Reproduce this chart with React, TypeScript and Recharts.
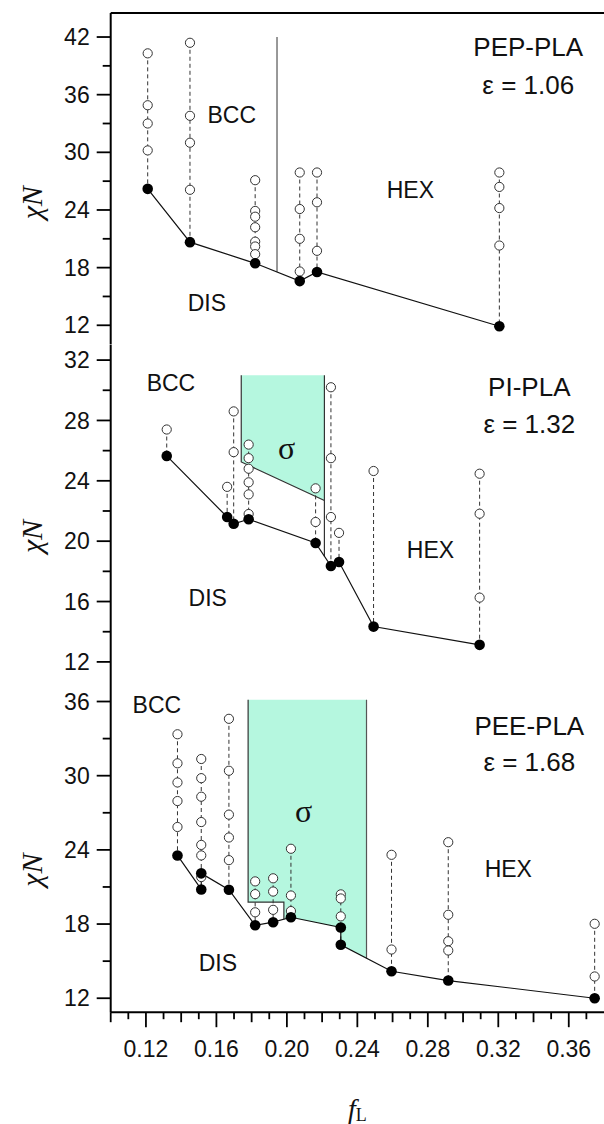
import React from "react";
import {
  ComposedChart,
  XAxis,
  YAxis,
  Scatter,
  Area,
  ReferenceLine,
  ReferenceDot,
} from "recharts";

type Column = { f: number; open: number[]; filled: number[] };
type Pt = { f: number; v: number };
type Note = { text: string; f: number; v: number; kind: "title" | "region" | "sigma" };

const SANS = '"Liberation Sans", Arial, sans-serif';
const SERIF = '"Liberation Serif", "Times New Roman", serif';

// shared x axis (f_L)
const xTicks = [
  0.1, 0.11, 0.12, 0.13, 0.14, 0.15, 0.16, 0.17, 0.18, 0.19, 0.2, 0.21, 0.22, 0.23,
  0.24, 0.25, 0.26, 0.27, 0.28, 0.29, 0.3, 0.31, 0.32, 0.33, 0.34, 0.35, 0.36, 0.37,
];

// PEP-PLA, eps = 1.06
const pepYLabels = [12, 18, 24, 30, 36, 42];
const pepYMinor = [15, 21, 27, 33, 39];
const pepColumns: Column[] = [
  { f: 0.121, open: [40.3, 34.9, 33.0, 30.2], filled: [26.2] },
  { f: 0.145, open: [41.4, 33.8, 31.0, 26.1], filled: [20.65] },
  { f: 0.182, open: [27.1, 23.9, 23.3, 22.2, 20.7, 20.2, 19.4], filled: [18.45] },
  { f: 0.2073, open: [27.9, 24.1, 21.0, 17.6], filled: [16.6] },
  { f: 0.2171, open: [27.9, 24.8, 19.75], filled: [17.55] },
  { f: 0.3206, open: [27.9, 26.4, 24.2, 20.3], filled: [11.9] },
];
const pepBccHex: Pt[] = [
  { f: 0.1944, v: 42 },
  { f: 0.1944, v: 17.57 },
];
const pepNotes: Note[] = [
  { text: "PEP-PLA", f: 0.337, v: 41.0, kind: "title" },
  { text: "ε = 1.06", f: 0.337, v: 37.0, kind: "title" },
  { text: "BCC", f: 0.1687, v: 33.9, kind: "region" },
  { text: "HEX", f: 0.2701, v: 26.1, kind: "region" },
  { text: "DIS", f: 0.1546, v: 14.3, kind: "region" },
];

// PI-PLA, eps = 1.32
const piYLabels = [12, 16, 20, 24, 28, 32];
const piYMinor = [14, 18, 22, 26, 30];
const piColumns: Column[] = [
  { f: 0.1318, open: [27.4], filled: [25.65] },
  { f: 0.1661, open: [23.6], filled: [21.6] },
  { f: 0.1698, open: [28.6, 25.9], filled: [21.15] },
  { f: 0.1783, open: [26.4, 25.5, 24.8, 23.9, 23.1, 21.8], filled: [21.45] },
  { f: 0.2163, open: [23.5, 21.27], filled: [19.88] },
  { f: 0.225, open: [30.2, 25.5, 21.6], filled: [18.35] },
  { f: 0.2296, open: [20.55], filled: [18.62] },
  { f: 0.2492, open: [24.65], filled: [14.34] },
  { f: 0.3094, open: [24.47, 21.82, 16.26], filled: [13.13] },
];
const piSigma = [
  { f: 0.1741, lo: 25.25, hi: 31.0 },
  { f: 0.2213, lo: 22.7, hi: 31.0 },
];
const piSigmaLeft: Pt[] = [
  { f: 0.1741, v: 31.0 },
  { f: 0.1741, v: 25.25 },
  { f: 0.2213, v: 22.7 },
];
const piSigmaRight: Pt[] = [
  { f: 0.2213, v: 31.0 },
  { f: 0.2213, v: 18.99 },
];
const piNotes: Note[] = [
  { text: "PI-PLA", f: 0.3376, v: 30.2, kind: "title" },
  { text: "ε = 1.32", f: 0.3376, v: 27.75, kind: "title" },
  { text: "BCC", f: 0.1342, v: 30.5, kind: "region" },
  { text: "σ", f: 0.1999, v: 26.2, kind: "sigma" },
  { text: "HEX", f: 0.2815, v: 19.4, kind: "region" },
  { text: "DIS", f: 0.1551, v: 16.25, kind: "region" },
];

// PEE-PLA, eps = 1.68
const peeYLabels = [12, 18, 24, 30, 36];
const peeYMinor = [15, 21, 27, 33];
const peeColumns: Column[] = [
  { f: 0.1379, open: [33.35, 31.0, 29.45, 27.95, 25.85], filled: [23.55] },
  { f: 0.1514, open: [31.35, 29.8, 28.3, 26.25, 24.4, 23.55, 21.8], filled: [20.8, 22.1] },
  { f: 0.1671, open: [34.6, 30.4, 26.85, 25.0, 23.17], filled: [20.78] },
  { f: 0.182, open: [21.45, 20.42, 18.95], filled: [17.9] },
  { f: 0.1922, open: [21.7, 20.63, 19.15], filled: [18.15] },
  { f: 0.2023, open: [24.09, 20.31, 19.05], filled: [18.55] },
  { f: 0.2306, open: [20.4, 20.07, 18.62], filled: [17.72, 16.32] },
  { f: 0.2594, open: [23.6, 15.94], filled: [14.18] },
  { f: 0.2916, open: [24.62, 18.75, 16.61, 15.86], filled: [13.43] },
  { f: 0.3747, open: [18.02, 13.76], filled: [12.0] },
];
const peeSigma = [
  { f: 0.178, lo: 19.77, hi: 36.14 },
  { f: 0.1983, lo: 19.77, hi: 36.14 },
  { f: 0.1983, lo: 18.39, hi: 36.14 },
  { f: 0.2023, lo: 18.55, hi: 36.14 },
  { f: 0.2306, lo: 17.72, hi: 36.14 },
  { f: 0.2306, lo: 16.32, hi: 36.14 },
  { f: 0.2452, lo: 15.23, hi: 36.14 },
];
const peeSigmaLeft: Pt[] = [
  { f: 0.178, v: 36.14 },
  { f: 0.178, v: 19.77 },
  { f: 0.1983, v: 19.77 },
  { f: 0.1983, v: 18.39 },
];
const peeSigmaRight: Pt[] = [
  { f: 0.2452, v: 36.14 },
  { f: 0.2452, v: 15.23 },
];
const peeNotes: Note[] = [
  { text: "PEE-PLA", f: 0.3376, v: 34.06, kind: "title" },
  { text: "ε = 1.68", f: 0.3376, v: 31.1, kind: "title" },
  { text: "BCC", f: 0.1262, v: 35.74, kind: "region" },
  { text: "σ", f: 0.2095, v: 27.2, kind: "sigma" },
  { text: "HEX", f: 0.3257, v: 22.47, kind: "region" },
  { text: "DIS", f: 0.1608, v: 14.86, kind: "region" },
];

const noDot = () => <g />;
const openDot = (p: any) => (
  <circle cx={p.cx} cy={p.cy} r={4.6} fill="#fff" stroke="#333" strokeWidth={1} />
);
const filledDot = (p: any) => <circle cx={p.cx} cy={p.cy} r={5.3} fill="#000" />;

const makeYTick = (labels: number[]) => (props: any) => {
  const { x, y, payload } = props;
  const major = labels.includes(payload.value);
  return (
    <g>
      <line x1={x - (major ? 14 : 8)} x2={x} y1={y} y2={y} stroke="#000" strokeWidth={1.8} />
      {major && (
        <text x={x - 21} y={y} dy="0.35em" textAnchor="end" fontSize={23} fontFamily={SANS} fill="#111">
          {payload.value}
        </text>
      )}
    </g>
  );
};

const XTick = (props: any) => {
  const { x, y, payload } = props;
  const k = Math.round(payload.value * 100);
  const len = k % 4 === 0 ? 15 : k % 2 === 0 ? 10 : 7;
  return (
    <g>
      <line x1={x} x2={x} y1={y} y2={y + len} stroke="#000" strokeWidth={1.8} />
      {k % 4 === 0 && (
        <text x={x} y={y + 45} textAnchor="middle" fontSize={23} fontFamily={SANS} fill="#111">
          {payload.value.toFixed(2)}
        </text>
      )}
    </g>
  );
};

const yTitle = (p: any) => {
  const vb = p.viewBox || {};
  const cy = vb.y + vb.height / 2 + 24;
  return (
    <text
      transform={`translate(${vb.x + 31}, ${cy}) rotate(-90)`}
      textAnchor="middle"
      dy="0.35em"
      fontSize={30}
      fontStyle="italic"
      fontFamily={SERIF}
      fill="#111"
    >
      χN
    </text>
  );
};

const xTitle = (p: any) => {
  const vb = p.viewBox || {};
  return (
    <text x={vb.x + vb.width / 2} y={vb.y + 106} textAnchor="middle" fontFamily={SERIF} fill="#111">
      <tspan fontSize={28} fontStyle="italic">f</tspan>
      <tspan fontSize={18} dy={3}>L</tspan>
    </text>
  );
};

const noteShape = (n: Note) => (p: any) => {
  const size = n.kind === "title" ? 26 : n.kind === "sigma" ? 32 : 23;
  return (
    <text
      x={p.cx}
      y={p.cy}
      dy="0.35em"
      textAnchor="middle"
      fontSize={size}
      fontFamily={n.kind === "sigma" ? SERIF : SANS}
      fill="#111"
    >
      {n.text}
    </text>
  );
};

type PanelProps = {
  columns: Column[];
  domain: [number, number];
  yLabels: number[];
  yMinor: number[];
  notes: Note[];
  top: number;
  height: number;
  marginTop: number;
  marginBottom: number;
  xHeight: number;
  bottomAxis?: boolean;
  topLine?: boolean;
  children?: React.ReactNode;
};

function Panel({
  columns,
  domain,
  yLabels,
  yMinor,
  notes,
  top,
  height,
  marginTop,
  marginBottom,
  xHeight,
  bottomAxis,
  topLine,
  children,
}: PanelProps) {
  const openPts = columns.flatMap((c) => c.open.map((v) => ({ f: c.f, v })));
  const filledPts = columns.flatMap((c) => c.filled.map((v) => ({ f: c.f, v })));
  return (
    <div style={{ position: "absolute", left: 0, top, width: 604, height }}>
      <ComposedChart
        width={604}
        height={height}
        margin={{ top: marginTop, right: 0, bottom: marginBottom, left: 0 }}
      >
        <XAxis
          type="number"
          dataKey="f"
          domain={[0.1, 0.38]}
          allowDataOverflow
          height={xHeight}
          ticks={bottomAxis ? xTicks : undefined}
          interval={0}
          tick={bottomAxis ? XTick : false}
          tickLine={false}
          tickSize={0}
          tickMargin={0}
          axisLine={{ stroke: "#000", strokeWidth: 2 }}
          label={bottomAxis ? xTitle : undefined}
        />
        <YAxis
          type="number"
          dataKey="v"
          domain={domain}
          allowDataOverflow
          width={110.7}
          ticks={[...yLabels, ...yMinor]}
          interval={0}
          tick={makeYTick(yLabels)}
          tickLine={false}
          tickSize={0}
          tickMargin={0}
          axisLine={{ stroke: "#000", strokeWidth: 2 }}
          label={yTitle}
        />
        {topLine && <ReferenceLine y={domain[1]} stroke="#000" strokeWidth={2} />}
        {children}
        {columns.map((c, i) => (
          <Scatter
            key={`col-${i}`}
            data={[
              { f: c.f, v: Math.max(...c.open) },
              { f: c.f, v: Math.min(...c.filled) },
            ]}
            line={{ stroke: "#333", strokeWidth: 1, strokeDasharray: "4 3" }}
            shape={noDot}
            isAnimationActive={false}
          />
        ))}
        <Scatter
          data={filledPts}
          line={{ stroke: "#111", strokeWidth: 1.2 }}
          shape={noDot}
          isAnimationActive={false}
        />
        <Scatter data={openPts} shape={openDot} isAnimationActive={false} />
        <Scatter data={filledPts} shape={filledDot} isAnimationActive={false} />
        {notes.map((n, i) => (
          <ReferenceDot key={`note-${i}`} x={n.f} y={n.v} r={0} shape={noteShape(n)} />
        ))}
      </ComposedChart>
    </div>
  );
}

export default function App() {
  return (
    <div style={{ position: "absolute", left: 0, top: 0, width: 604, height: 1124, background: "#fff" }}>
      <Panel
        columns={pepColumns}
        domain={[10, 44.5]}
        yLabels={pepYLabels}
        yMinor={pepYMinor}
        notes={pepNotes}
        top={0}
        height={348}
        marginTop={13}
        marginBottom={3.5}
        xHeight={0}
        topLine
      >
        <Scatter
          data={pepBccHex}
          line={{ stroke: "#777", strokeWidth: 1.5 }}
          shape={noDot}
          isAnimationActive={false}
        />
      </Panel>
      <Panel
        columns={piColumns}
        domain={[10.8, 33]}
        yLabels={piYLabels}
        yMinor={piYMinor}
        notes={piNotes}
        top={339.5}
        height={345}
        marginTop={5}
        marginBottom={5}
        xHeight={0}
      >
        <Area
          data={piSigma.map((p) => ({ f: p.f, range: [p.lo, p.hi] }))}
          dataKey="range"
          type="linear"
          stroke="none"
          fill="#b5f7df"
          fillOpacity={1}
          isAnimationActive={false}
        />
        <Scatter data={piSigmaLeft} line={{ stroke: "#333", strokeWidth: 1.2 }} shape={noDot} isAnimationActive={false} />
        <Scatter data={piSigmaRight} line={{ stroke: "#333", strokeWidth: 1.2 }} shape={noDot} isAnimationActive={false} />
      </Panel>
      <Panel
        columns={peeColumns}
        domain={[10.87, 37.74]}
        yLabels={peeYLabels}
        yMinor={peeYMinor}
        notes={peeNotes}
        top={674.5}
        height={449.5}
        marginTop={5}
        marginBottom={0}
        xHeight={112.3}
        bottomAxis
      >
        <Area
          data={peeSigma.map((p) => ({ f: p.f, range: [p.lo, p.hi] }))}
          dataKey="range"
          type="linear"
          stroke="none"
          fill="#b5f7df"
          fillOpacity={1}
          isAnimationActive={false}
        />
        <Scatter data={peeSigmaLeft} line={{ stroke: "#333", strokeWidth: 1.2 }} shape={noDot} isAnimationActive={false} />
        <Scatter data={peeSigmaRight} line={{ stroke: "#555", strokeWidth: 1.2 }} shape={noDot} isAnimationActive={false} />
      </Panel>
    </div>
  );
}
